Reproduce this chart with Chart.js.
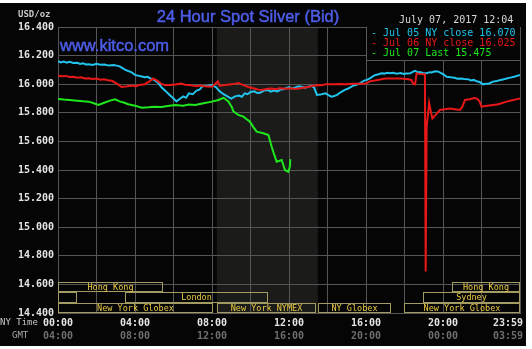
<!DOCTYPE html>
<html>
<head>
<meta charset="utf-8">
<script src="https://cdn.jsdelivr.net/npm/chart.js@4.4.1/dist/chart.umd.min.js"></script>
<style>
  html, body { margin: 0; padding: 0; background: #ffffff; }
  #wrap { width: 532px; height: 349px; }
</style>
</head>
<body>
<div id="wrap"><canvas id="silverChart" width="532" height="349"></canvas></div>
<script>
// hours since 00:00 NY time and bid prices, one pair of arrays per day
const jul05Hours = [0, 0.15, 0.3, 0.45, 0.6, 0.8, 1, 1.15, 1.3, 1.45, 1.6, 1.8, 2, 2.2, 2.4, 2.65, 2.9, 3.05, 3.2, 3.35, 3.5, 3.65, 3.8, 4, 4.15, 4.3, 4.5, 4.65, 4.8, 5, 5.2, 5.4, 5.6, 5.8, 6, 6.15, 6.3, 6.5, 6.65, 6.8, 7, 7.2, 7.35, 7.5, 7.8, 8, 8.2, 8.4, 8.6, 8.8, 9, 9.2, 9.4, 9.55, 9.7, 9.85, 10, 10.2, 10.35, 10.5, 10.7, 10.9, 11.05, 11.2, 11.4, 11.55, 11.7, 11.85, 12, 12.15, 12.3, 12.5, 12.7, 12.85, 13, 13.15, 13.3, 13.45, 13.7, 13.9, 14.05, 14.2, 14.35, 14.5, 14.7, 14.9, 15.05, 15.2, 15.35, 15.5, 15.7, 15.9, 16.05, 16.2, 16.35, 16.5, 16.65, 16.8, 16.95, 17.1, 17.25, 17.4, 17.6, 17.8, 17.95, 18.1, 18.3, 18.45, 18.55, 18.7, 18.8, 18.95, 19.15, 19.3, 19.4, 19.6, 19.76, 19.9, 20, 20.2, 20.4, 20.6, 20.75, 20.9, 21.1, 21.3, 21.45, 21.6, 21.75, 21.9, 22.1, 22.25, 22.4, 22.6, 22.8, 23, 23.15, 23.3, 23.5, 23.7, 23.85, 24];
const jul05Values = [16.162, 16.152, 16.158, 16.150, 16.156, 16.148, 16.150, 16.142, 16.146, 16.138, 16.140, 16.134, 16.142, 16.136, 16.138, 16.130, 16.134, 16.130, 16.125, 16.112, 16.100, 16.092, 16.085, 16.065, 16.060, 16.055, 16.048, 16.052, 16.040, 16.030, 16.010, 15.975, 15.950, 15.925, 15.900, 15.880, 15.895, 15.915, 15.905, 15.936, 15.930, 15.955, 15.962, 15.985, 15.990, 15.994, 15.980, 15.950, 15.930, 15.915, 15.900, 15.915, 15.920, 15.912, 15.936, 15.930, 15.945, 15.950, 15.938, 15.940, 15.955, 15.960, 15.948, 15.955, 15.950, 15.962, 15.965, 15.972, 15.980, 15.970, 15.975, 15.985, 15.980, 15.976, 15.982, 15.988, 15.978, 15.925, 15.930, 15.936, 15.924, 15.913, 15.918, 15.925, 15.945, 15.960, 15.968, 15.980, 15.990, 15.995, 16.008, 16.025, 16.030, 16.040, 16.055, 16.065, 16.070, 16.076, 16.074, 16.080, 16.076, 16.080, 16.074, 16.078, 16.072, 16.074, 16.076, 16.088, 16.094, 16.082, 16.085, 16.078, 16.076, 16.084, 16.082, 16.090, 16.088, 16.078, 16.070, 16.052, 16.048, 16.045, 16.038, 16.040, 16.036, 16.035, 16.026, 16.030, 16.020, 16.015, 15.999, 16.004, 16.005, 16.018, 16.022, 16.030, 16.034, 16.040, 16.046, 16.052, 16.058, 16.064];

const jul06Hours = [0, 0.2, 0.4, 0.6, 0.8, 1, 1.2, 1.4, 1.6, 1.8, 2, 2.2, 2.4, 2.6, 2.8, 3.1, 3.3, 3.6, 3.85, 4.05, 4.2, 4.5, 4.75, 4.95, 5.15, 5.4, 5.6, 5.8, 6.1, 6.4, 6.6, 6.8, 7.0, 7.2, 7.4, 7.6, 8, 8.3, 8.4, 8.7, 9, 9.2, 9.37, 9.6, 9.9, 10.2, 10.4, 10.58, 10.9, 11.1, 11.3, 11.5, 11.8, 12.1, 12.3, 12.5, 12.9, 13.2, 13.5, 13.7, 13.9, 14.3, 14.6, 15, 15.3, 15.7, 16, 16.2, 16.6, 17, 17.4, 17.8, 18.2, 18.35, 18.46, 18.55, 18.63, 18.8, 18.98, 19.06, 19.1, 19.15, 19.28, 19.38, 19.45, 19.55, 19.84, 20.1, 20.36, 20.6, 20.88, 21, 21.14, 21.4, 21.6, 21.75, 21.9, 22, 22.3, 22.61, 22.8, 23, 23.31, 23.6, 23.8, 24];
const jul06Values = [16.060, 16.055, 16.058, 16.050, 16.052, 16.045, 16.048, 16.040, 16.042, 16.036, 16.040, 16.032, 16.035, 16.028, 16.024, 16.000, 15.980, 15.985, 15.990, 15.984, 15.995, 16.000, 16.020, 16.040, 16.025, 16.000, 15.992, 15.995, 15.998, 16.005, 15.996, 15.995, 15.990, 15.985, 15.990, 15.985, 15.982, 16.020, 15.990, 15.994, 16.000, 16.004, 16.008, 15.995, 15.980, 15.970, 15.962, 15.960, 15.968, 15.970, 15.965, 15.972, 15.968, 15.972, 15.966, 15.970, 15.978, 15.987, 15.995, 15.992, 15.999, 16.000, 16.002, 16.000, 16.003, 16.003, 16.005, 16.020, 16.030, 16.040, 16.040, 16.040, 16.035, 16.030, 16.003, 16.000, 16.076, 16.072, 16.070, 16.070, 14.690, 15.700, 15.870, 15.800, 15.760, 15.775, 15.820, 15.825, 15.830, 15.825, 15.820, 15.840, 15.890, 15.895, 15.904, 15.900, 15.880, 15.843, 15.850, 15.855, 15.858, 15.865, 15.878, 15.888, 15.894, 15.900];

const jul07Hours = [0, 0.3, 0.6, 1, 1.3, 1.6, 1.9, 2.1, 2.4, 2.7, 2.96, 3.2, 3.45, 3.65, 4, 4.35, 4.7, 5, 5.38, 5.7, 6.08, 6.5, 6.8, 7.12, 7.5, 8, 8.33, 8.6, 8.85, 9.02, 9.11, 9.37, 9.63, 9.97, 10.15, 10.32, 10.67, 10.93, 11.1, 11.25, 11.36, 11.62, 11.79, 11.96, 12.04, 12.07];
const jul07Values = [15.897, 15.893, 15.890, 15.885, 15.880, 15.878, 15.865, 15.855, 15.870, 15.885, 15.894, 15.880, 15.870, 15.860, 15.850, 15.836, 15.838, 15.842, 15.840, 15.848, 15.855, 15.850, 15.858, 15.855, 15.865, 15.878, 15.890, 15.905, 15.880, 15.843, 15.810, 15.785, 15.773, 15.738, 15.700, 15.668, 15.657, 15.645, 15.563, 15.500, 15.458, 15.470, 15.400, 15.388, 15.420, 15.475];

const legendLabels = ['- Jul 05 NY close 16.070', '- Jul 06 NY close 16.025', '- Jul 07 Last 15.475'];

// trading sessions along the bottom (start/end in NY hours, row 0 = top)
const sessionNames = ['Hong Kong', '', 'London', 'New York Globex', 'New York NYMEX', 'NY Globex', 'Sydney', 'Hong Kong', 'New York Globex'];
const sessionStart = [0, 0, 3.5, 0, 8.25, 13.5, 18.95, 20.45, 17.95];
const sessionEnd = [5.45, 1, 10.9, 8.05, 13.4, 17.3, 24, 24, 24];
const sessionRow = [0, 1, 1, 2, 2, 2, 1, 0, 2];

// NYMEX floor hours (shaded)
const pitOpen = 8.25;
const pitClose = 13.5;

const yMin = 14.4, yMax = 16.4, yStep = 0.2;

const COLORS = ['#22c4ee', '#e81818', '#1ee81e'];
const MONO = '"DejaVu Sans Mono", monospace';

function toPoints(hours, values) {
    return hours.map((h, i) => ({x: h, y: values[i]}));
}

function hhmm(v) {
    if (v >= 24) return '23:59';
    return String(v).padStart(2, '0') + ':00';
}

// black panel + shaded pit hours, drawn under the grid
const backdrop = {
    id: 'backdrop',
    beforeDraw(chart) {
        const {ctx, chartArea, scales} = chart;
        ctx.save();
        ctx.fillStyle = '#050505';
        ctx.fillRect(0, 3, 526, 343);
        const x0 = scales.x.getPixelForValue(pitOpen);
        const x1 = scales.x.getPixelForValue(pitClose);
        ctx.fillStyle = '#1b1c1a';
        ctx.fillRect(x0, chartArea.top, x1 - x0, chartArea.bottom - chartArea.top);
        ctx.restore();
    }
};

// legend panel and session boxes, over the grid
const overlays = {
    id: 'overlays',
    beforeDatasetsDraw(chart) {
        const {ctx, chartArea, scales} = chart;
        const x = scales.x, y = scales.y;
        ctx.save();

        // legend panel
        const lx = Math.round(x.getPixelForValue(16)) + 0.5;
        const lb = chartArea.top + 33.5;
        ctx.fillStyle = '#050505';
        ctx.fillRect(lx, chartArea.top, chartArea.right - lx, lb - chartArea.top);
        ctx.strokeStyle = '#5a5a5a';
        ctx.lineWidth = 1;
        ctx.beginPath();
        ctx.moveTo(lx, chartArea.top);
        ctx.lineTo(lx, lb);
        ctx.lineTo(chartArea.right, lb);
        ctx.stroke();
        ctx.font = '10px ' + MONO;
        ctx.textBaseline = 'middle';
        ctx.textAlign = 'left';
        legendLabels.forEach((t, i) => {
            ctx.fillStyle = COLORS[i];
            ctx.fillText(t, lx + 4.5, chartArea.top + 6 + i * 10);
        });

        // sessions
        const rowH = 0.0725;
        ctx.font = '8.5px ' + MONO;
        ctx.textAlign = 'center';
        sessionNames.forEach((name, i) => {
            const r = sessionRow[i];
            const bottom = yMin + (2 - r) * rowH;
            const px0 = Math.round(x.getPixelForValue(sessionStart[i])) + 0.5;
            const px1 = Math.round(x.getPixelForValue(sessionEnd[i])) - 0.5;
            const py0 = Math.round(y.getPixelForValue(bottom + rowH)) + 0.5;
            const py1 = Math.round(y.getPixelForValue(bottom)) - 0.5;
            ctx.strokeStyle = '#a29c62';
            ctx.strokeRect(px0, py0, px1 - px0, py1 - py0);
            if (name) {
                ctx.fillStyle = '#eccb46';
                ctx.fillText(name, (px0 + px1) / 2, (py0 + py1) / 2 + 0.5);
            }
        });
        ctx.restore();
    },
    afterDraw(chart) {
        const {ctx} = chart;
        ctx.save();
        ctx.textBaseline = 'middle';
        ctx.textAlign = 'left';
        ctx.fillStyle = '#c8c8c8';
        ctx.font = 'bold 9px ' + MONO;
        ctx.fillText('USD/oz', 18, 15);

        // title and site name, slightly heavier than regular weight
        ctx.fillStyle = '#4d5de8';
        ctx.strokeStyle = '#4d5de8';
        ctx.lineWidth = 0.5;
        ctx.font = '16.5px "Liberation Sans", Arial, sans-serif';
        ctx.textAlign = 'center';
        ctx.fillText('24 Hour Spot Silver (Bid)', 248, 17);
        ctx.strokeText('24 Hour Spot Silver (Bid)', 248, 17);
        ctx.textAlign = 'left';
        ctx.fillText('www.kitco.com', 60, 46);
        ctx.strokeText('www.kitco.com', 60, 46);

        ctx.fillStyle = '#d8d8d8';
        ctx.font = '10px ' + MONO;
        ctx.fillText('July 07, 2017 12:04', 399, 20);

        ctx.font = '9px ' + MONO;
        ctx.fillStyle = '#c8c8c8';
        ctx.fillText('NY Time', 0, 323);
        ctx.fillStyle = '#a8a8a8';
        ctx.fillText('GMT', 12, 336);
        ctx.restore();
    }
};

const ctx = document.getElementById('silverChart').getContext('2d');
new Chart(ctx, {
    type: 'line',
    data: {
        datasets: [
            {label: 'Jul 07', data: toPoints(jul07Hours, jul07Values), borderColor: COLORS[2]},
            {label: 'Jul 06', data: toPoints(jul06Hours, jul06Values), borderColor: COLORS[1]},
            {label: 'Jul 05', data: toPoints(jul05Hours, jul05Values), borderColor: COLORS[0]}
        ]
    },
    options: {
        responsive: false,
        animation: false,
        parsing: false,
        layout: {padding: {top: 27, right: 12, left: 0, bottom: 0}},
        elements: {
            line: {borderWidth: 2, tension: 0},
            point: {radius: 0}
        },
        plugins: {
            legend: {display: false},
            tooltip: {enabled: false}
        },
        scales: {
            x: {
                type: 'linear',
                min: 0,
                max: 24,
                weight: 0,
                grid: {color: '#555555', drawTicks: false},
                border: {color: '#555555'},
                ticks: {
                    stepSize: 2,
                    autoSkip: false,
                    maxRotation: 0,
                    padding: 4,
                    color: '#e4e4e4',
                    font: {family: MONO, size: 10, weight: 'bold'},
                    callback: v => v % 4 === 0 ? (v >= 24 ? hhmm(v) + '    ' : hhmm(v)) : ''
                },
                afterFit(scale) { scale.height = 17; scale.paddingLeft = 0; scale.paddingRight = 0; }
            },
            x2: {
                type: 'linear',
                position: 'bottom',
                min: 0,
                max: 24,
                weight: 1,
                grid: {display: false, drawTicks: false},
                border: {display: false},
                ticks: {
                    stepSize: 2,
                    autoSkip: false,
                    maxRotation: 0,
                    padding: 0,
                    color: '#6e6e6e',
                    font: {family: MONO, size: 10, weight: 'bold'},
                    callback: v => {
                        if (v % 4 !== 0) return '';
                        if (v >= 24) return '03:59    ';
                        return hhmm((v + 4) % 24);
                    }
                },
                afterFit(scale) { scale.height = 19; scale.paddingLeft = 0; scale.paddingRight = 0; }
            },
            y: {
                min: yMin,
                max: yMax,
                grid: {color: '#555555', drawTicks: false},
                border: {color: '#555555'},
                ticks: {
                    stepSize: yStep,
                    padding: 4,
                    color: '#e4e4e4',
                    font: {family: MONO, size: 10, weight: 'bold'},
                    callback: v => v.toFixed(3)
                },
                afterFit(scale) { scale.width = 58; }
            }
        }
    },
    plugins: [backdrop, overlays]
});
</script>
</body>
</html>
